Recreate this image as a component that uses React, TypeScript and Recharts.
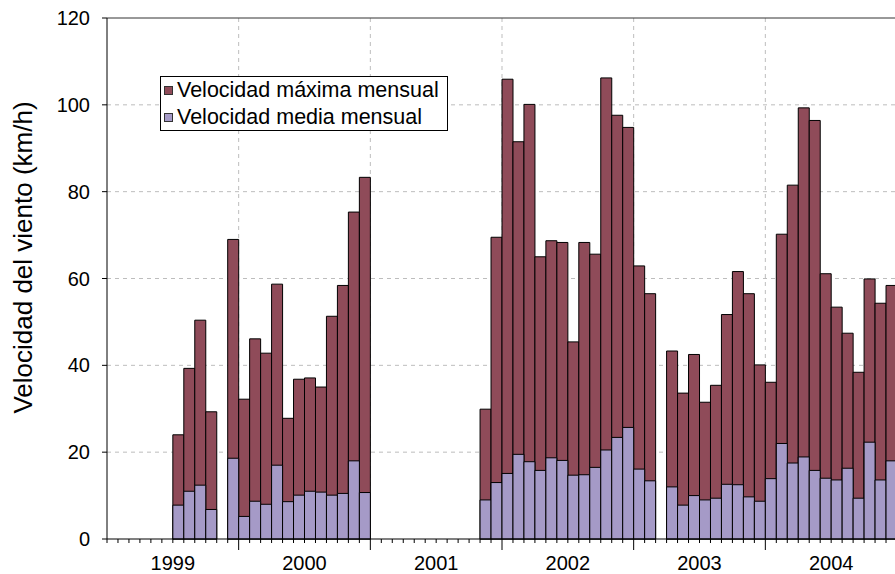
import {
  BarChart,
  Bar,
  XAxis,
  YAxis,
  CartesianGrid,
  Legend,
  ReferenceLine,
} from "recharts";

const FONT = "'Liberation Sans', Arial, sans-serif";
const COLOR_MAX = "#8F4B59";
const COLOR_MED = "#A59AC7";
const GRID = "#BDBDBD";

const CHART_W = 905;
const CHART_H = 574;
const MARGIN = { top: 18, right: 8, left: 0, bottom: 0 };
const Y_AXIS_W = 107;
const PLOT_W = CHART_W - MARGIN.left - MARGIN.right - Y_AXIS_W;

const YEARS = [1999, 2000, 2001, 2002, 2003, 2004];
const MONTHS = ["ene", "feb", "mar", "abr", "may", "jun", "jul", "ago", "sep", "oct", "nov", "dic"];
const Y_TICKS = [0, 20, 40, 60, 80, 100, 120];
const SERIES_NAMES = ["Velocidad máxima mensual", "Velocidad media mensual"];

// velocidad máxima mensual (km/h), una lista por año
const MAX_1999 = [null, null, null, null, null, null, 24.0, 39.3, 50.4, 29.3, null, 69.0];
const MAX_2000 = [32.2, 46.1, 42.8, 58.7, 27.8, 36.8, 37.1, 35.0, 51.3, 58.4, 75.3, 83.3];
const MAX_2001 = [null, null, null, null, null, null, null, null, null, null, 29.9, 69.5];
const MAX_2002 = [105.9, 91.5, 100.1, 65.0, 68.7, 68.3, 45.4, 68.3, 65.6, 106.2, 97.6, 94.8];
const MAX_2003 = [62.9, 56.5, null, 43.3, 33.6, 42.5, 31.5, 35.4, 51.7, 61.6, 56.5, 40.1];
const MAX_2004 = [36.1, 70.2, 81.5, 99.3, 96.4, 61.1, 53.4, 47.4, 38.4, 59.9, 54.3, 58.4];

// velocidad media mensual (km/h)
const MED_1999 = [null, null, null, null, null, null, 7.8, 11.0, 12.4, 6.8, null, 18.6];
const MED_2000 = [5.2, 8.7, 8.0, 17.0, 8.6, 10.1, 11.0, 10.8, 10.1, 10.5, 18.0, 10.7];
const MED_2001 = [null, null, null, null, null, null, null, null, null, null, 9.0, 13.0];
const MED_2002 = [15.1, 19.5, 17.8, 15.8, 18.7, 18.1, 14.7, 14.8, 16.5, 20.5, 23.4, 25.7];
const MED_2003 = [16.1, 13.4, null, 12.0, 7.8, 10.0, 9.0, 9.4, 12.6, 12.5, 9.7, 8.7];
const MED_2004 = [13.9, 22.0, 17.5, 18.9, 15.8, 14.0, 13.6, 16.3, 9.4, 22.3, 13.6, 18.0];

const MAX_BY_YEAR = [MAX_1999, MAX_2000, MAX_2001, MAX_2002, MAX_2003, MAX_2004];
const MED_BY_YEAR = [MED_1999, MED_2000, MED_2001, MED_2002, MED_2003, MED_2004];

const data = YEARS.flatMap((year, yi) =>
  MONTHS.map((m, mi) => ({
    key: `${m}-${year}`,
    year,
    month: mi,
    max: MAX_BY_YEAR[yi][mi],
    med: MED_BY_YEAR[yi][mi],
  }))
);

const N = data.length;
const YEAR_STARTS = YEARS.slice(1).map((y) => `ene-${y}`);

// tick por mes: raya en el borde izquierdo de cada mes, raya larga al empezar el año,
// y el año escrito en el centro de su tramo (borde izquierdo de julio)
function MonthTick({ x, y, payload, index }: any) {
  const half = typeof payload?.offset === "number" && payload.offset > 0 ? payload.offset : PLOT_W / N / 2;
  const i = typeof index === "number" ? index : payload.index;
  const row = data[i];
  const left = x - half;
  const len = row && row.month === 0 && i > 0 ? 11 : 4;
  return (
    <g>
      <line x1={left} x2={left} y1={y} y2={y + len} stroke="#000" />
      {row && row.month === 6 && (
        <text x={left} y={y + 31} textAnchor="middle" fontSize={20} fill="#000">
          {row.year}
        </text>
      )}
    </g>
  );
}

// líneas verticales de la rejilla en el borde izquierdo de cada año
function yearGridLines({ xAxis, offset }: any) {
  const s = xAxis?.scale;
  return YEAR_STARTS.map((k) => {
    let v: any;
    if (typeof s === "function") v = s(k);
    else if (s && typeof s.map === "function") v = s.map(k);
    if (typeof v !== "number" || Number.isNaN(v)) {
      const idx = data.findIndex((d) => d.key === k);
      v = offset.left + (offset.width * idx) / N;
    }
    return v;
  });
}

function YLabel({ viewBox }: any) {
  const cx = 32;
  const cy = viewBox.y + viewBox.height / 2 - 21;
  return (
    <text
      x={cx}
      y={cy}
      transform={`rotate(-90 ${cx} ${cy})`}
      textAnchor="middle"
      fontSize={26}
      fill="#000"
    >
      Velocidad del viento (km/h)
    </text>
  );
}

function LegendBox({ payload }: any) {
  const items = SERIES_NAMES.map((n) => (payload || []).find((p: any) => p.value === n)).filter(Boolean);
  return (
    <div
      style={{
        border: "1px solid #000",
        background: "#fff",
        height: 53,
        fontFamily: FONT,
        fontSize: 21.5,
        color: "#000",
      }}
    >
      {items.map((p: any) => (
        <div key={p.value} style={{ display: "flex", alignItems: "center", height: 27 }}>
          <span
            style={{
              width: 7,
              height: 7,
              background: p.color,
              border: "1px solid #333",
              marginLeft: 3,
              marginRight: 4,
              display: "inline-block",
            }}
          />
          <span style={{ lineHeight: "27px" }}>{p.value}</span>
        </div>
      ))}
    </div>
  );
}

export default function App() {
  return (
    <div
      style={{
        position: "fixed",
        left: 0,
        top: 0,
        width: 895,
        height: 574,
        overflow: "hidden",
        background: "#fff",
      }}
    >
      <BarChart
        width={CHART_W}
        height={CHART_H}
        data={data}
        margin={MARGIN}
        barCategoryGap={0}
        barGap={0}
        style={{ fontFamily: FONT }}
      >
        <CartesianGrid
          xAxisId="max"
          stroke={GRID}
          strokeDasharray="4 4"
          horizontalValues={[20, 40, 60, 80, 100]}
          verticalCoordinatesGenerator={yearGridLines}
        />
        <XAxis
          xAxisId="max"
          dataKey="key"
          interval={0}
          tick={<MonthTick />}
          tickLine={false}
          tickSize={0}
          tickMargin={0}
          axisLine={{ stroke: "#000" }}
          height={35}
        />
        <XAxis xAxisId="med" dataKey="key" hide height={0} />
        <YAxis
          domain={[0, 120]}
          ticks={Y_TICKS}
          width={Y_AXIS_W}
          tick={{ fontSize: 20, fill: "#000" }}
          tickSize={5}
          tickMargin={12}
          tickLine={{ stroke: "#000" }}
          axisLine={{ stroke: "#000" }}
          label={(props: any) => <YLabel {...props} />}
        />
        <ReferenceLine xAxisId="max" y={120} stroke="#333" />
        <Legend
          layout="horizontal"
          verticalAlign="middle"
          align="center"
          itemSorter={null}
          wrapperStyle={{ left: 160, top: 76, width: 288 }}
          content={<LegendBox />}
        />
        <Bar
          xAxisId="max"
          dataKey="max"
          name={SERIES_NAMES[0]}
          fill={COLOR_MAX}
          stroke="#000"
          strokeWidth={1}
          isAnimationActive={false}
        />
        <Bar
          xAxisId="med"
          dataKey="med"
          name={SERIES_NAMES[1]}
          fill={COLOR_MED}
          stroke="#000"
          strokeWidth={1}
          isAnimationActive={false}
        />
      </BarChart>
    </div>
  );
}
